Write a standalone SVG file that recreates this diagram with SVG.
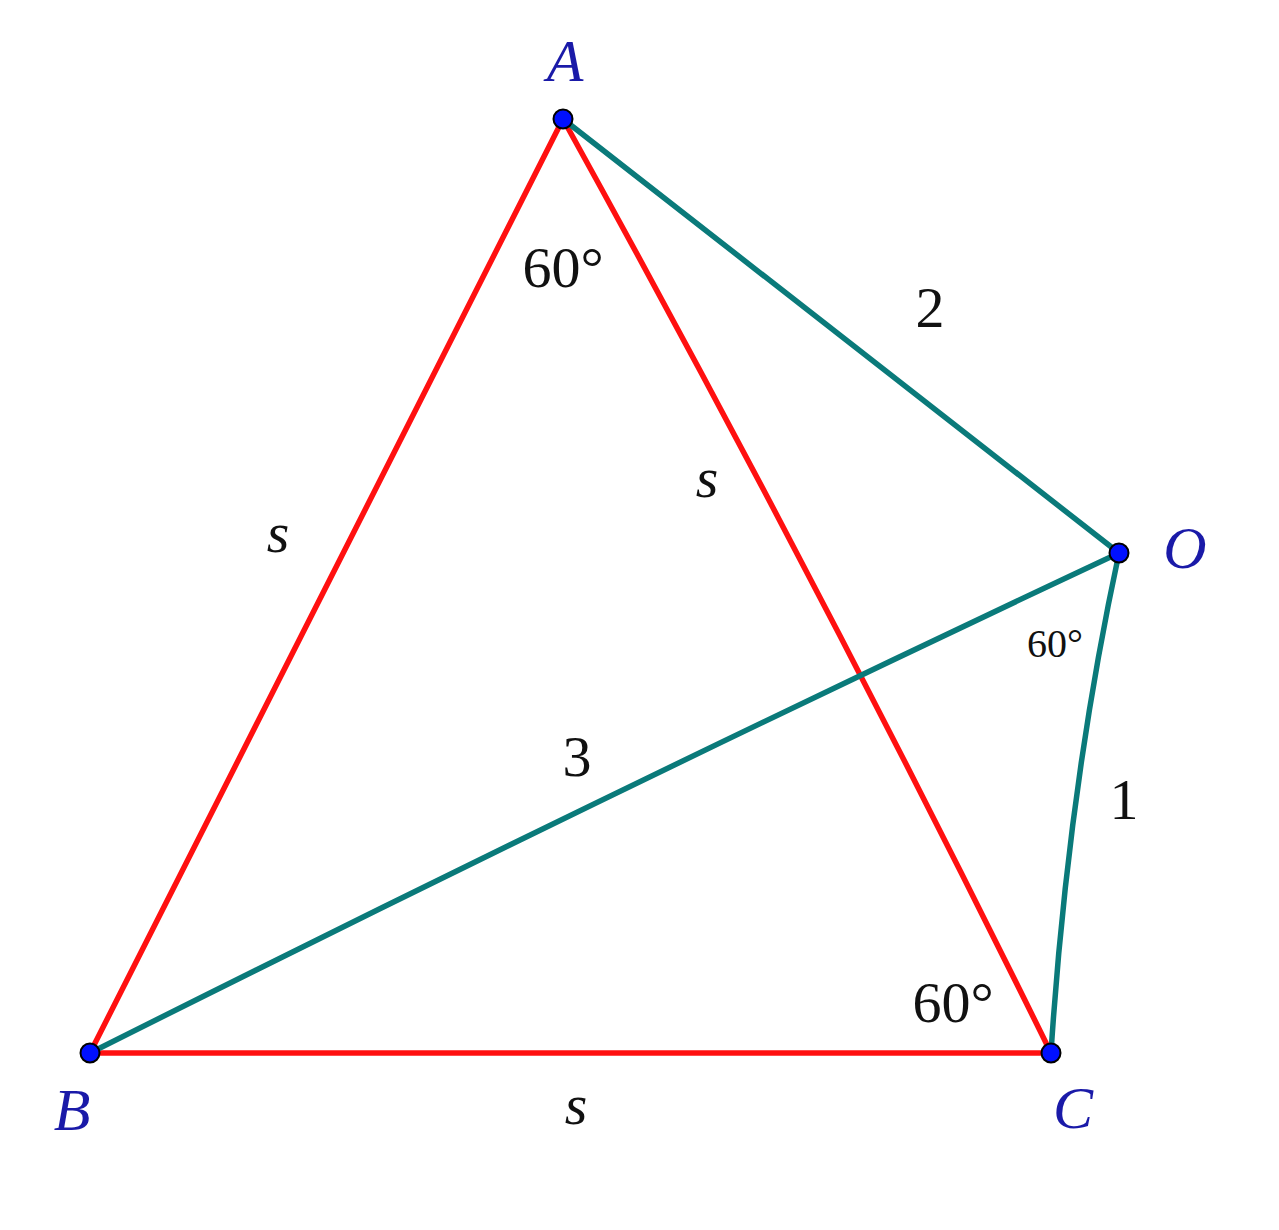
<svg xmlns="http://www.w3.org/2000/svg" width="1279" height="1230" viewBox="0 0 1279 1230">
<style>
.red{stroke:#ff1010;stroke-width:5.5;fill:none;stroke-linecap:round}
.teal{stroke:#0a7a7a;stroke-width:5.5;fill:none;stroke-linecap:round}
.pt{fill:#0010ff;stroke:#000;stroke-width:2}
.lbl{font-family:"Liberation Serif","DejaVu Serif",serif;font-style:italic;fill:#1a1aa8;font-size:60px;text-anchor:middle}
.num{font-family:"Liberation Serif","DejaVu Serif",serif;fill:#111;font-size:58px;text-anchor:middle}
.var{font-family:"Liberation Serif","DejaVu Serif",serif;font-style:italic;fill:#111;font-size:58px;text-anchor:middle}
</style>
<rect width="1279" height="1230" fill="#fff"/>
<g id="connectors">
<line class="red" x1="563" y1="119" x2="90" y2="1053"/>
<path class="red" d="M563,119 Q818,580 1051,1053"/>
<line class="red" x1="90" y1="1053" x2="1051" y2="1053"/>
<line class="teal" x1="563" y1="119" x2="1119" y2="553"/>
<path class="teal" d="M90,1053 Q604,795 1119,553"/>
<path class="teal" d="M1119,553 Q1068,790 1051,1053"/>
</g>
<g id="A"><circle class="pt" cx="563" cy="119" r="9.5"/><text class="lbl" x="565" y="81">A</text></g>
<g id="B"><circle class="pt" cx="90" cy="1053" r="9.5"/><text class="lbl" x="72" y="1130">B</text></g>
<g id="C"><circle class="pt" cx="1051" cy="1053" r="9.5"/><text class="lbl" x="1073" y="1128">C</text></g>
<g id="O"><circle class="pt" cx="1119" cy="553" r="9.5"/><text class="lbl" x="1185" y="568">O</text></g>
<g id="labels">
<text class="num" x="563" y="287">60°</text>
<text class="num" x="930" y="327">2</text>
<text class="var" x="707" y="497">s</text>
<text class="var" x="278" y="552">s</text>
<text class="num" x="1055" y="657" style="font-size:40px">60°</text>
<text class="num" x="577" y="776">3</text>
<text class="num" x="1124" y="819">1</text>
<text class="num" x="953" y="1022">60°</text>
<text class="var" x="576" y="1124">s</text>
</g>
</svg>
